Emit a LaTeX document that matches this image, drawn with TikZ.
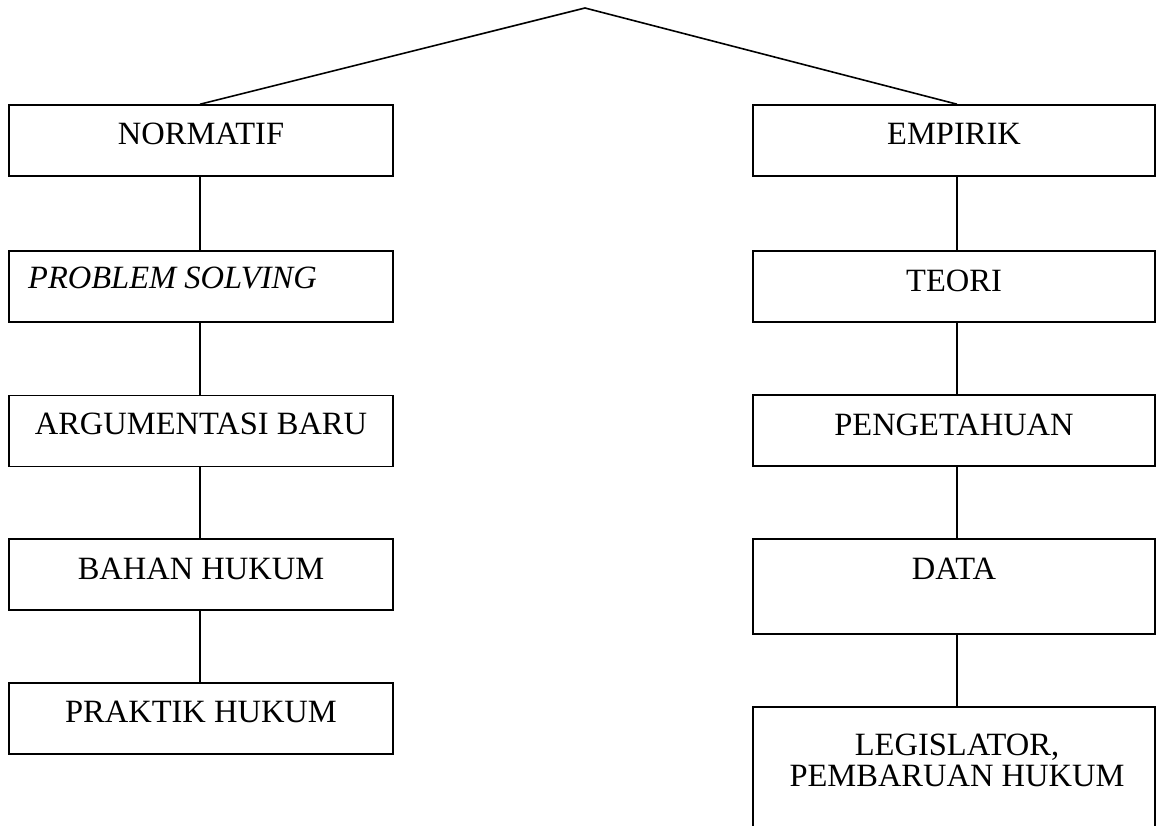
\documentclass[tikz,border=0pt]{standalone}
\usepackage{fontspec}
\setmainfont{Liberation Serif}
\usetikzlibrary{positioning}
\begin{document}
\begin{tikzpicture}[x=1pt,y=-1pt,
  box/.style={draw=black,line width=1.6pt,minimum height=71pt,inner sep=0pt},
  lbox/.style={box,minimum width=384pt},
  rbox/.style={box,minimum width=402pt},
  lbl/.style={anchor=base,inner sep=0pt,font=\fontsize{32.5}{36}\selectfont},
  conn/.style={line width=1.6pt}]
\clip (0,0) rectangle (1156,825);
\useasboundingbox (0,0) rectangle (1156,825);
% left column
\node[lbox] (n1) at (201,140.5) {};
\node[lbox] (n2) at (201,286.5) {};
\node[lbox] (n3) at (201,431) {};
\node[lbox] (n4) at (201,574.5) {};
\node[lbox] (n5) at (201,718.5) {};
% right column
\node[rbox] (e1) at (954,140.5) {};
\node[rbox] (e2) at (954,286.5) {};
\node[rbox] (e3) at (954,430.5) {};
\node[rbox,minimum height=95pt] (e4) at (954,586.5) {};
\node[rbox,minimum height=160pt] (e5) at (954,787) {};
% texts
\node[lbl] (t1) at ([yshift=-40pt]n1.north) {NORMATIF};
\node[lbl,anchor=base west] (t2) at ([yshift=-38pt]n2.north west -| 28,0) {\itshape PROBLEM SOLVING};
\node[lbl] (t3) at ([yshift=-40pt]n3.north) {ARGUMENTASI BARU};
\node[lbl] (t4) at ([yshift=-41pt]n4.north) {BAHAN HUKUM};
\node[lbl] (t5) at ([yshift=-40pt]n5.north) {PRAKTIK HUKUM};
\node[lbl] (s1) at ([yshift=-40pt]e1.north) {EMPIRIK};
\node[lbl] (s2) at ([yshift=-41pt]e2.north) {TEORI};
\node[lbl] (s3) at ([yshift=-41pt]e3.north) {PENGETAHUAN};
\node[lbl] (s4) at ([yshift=-41pt]e4.north) {DATA};
\node[lbl] (s5) at ([xshift=3pt,yshift=-49pt]e5.north) {LEGISLATOR,};
\node[lbl] (s6) at ([xshift=3pt,yshift=-80pt]e5.north) {PEMBARUAN HUKUM};
% connectors
\coordinate (apex) at (585,8);
\coordinate (Lx) at (200,0);
\coordinate (Rx) at (957,0);
\draw[conn] (n1.north -| Lx) -- (apex) -- (e1.north -| Rx);
\draw[conn] (n1.south -| Lx) -- (n2.north -| Lx);
\draw[conn] (n2.south -| Lx) -- (n3.north -| Lx);
\draw[conn] (n3.south -| Lx) -- (n4.north -| Lx);
\draw[conn] (n4.south -| Lx) -- (n5.north -| Lx);
\draw[conn] (e1.south -| Rx) -- (e2.north -| Rx);
\draw[conn] (e2.south -| Rx) -- (e3.north -| Rx);
\draw[conn] (e3.south -| Rx) -- (e4.north -| Rx);
\draw[conn] (e4.south -| Rx) -- (e5.north -| Rx);
\end{tikzpicture}
\end{document}
